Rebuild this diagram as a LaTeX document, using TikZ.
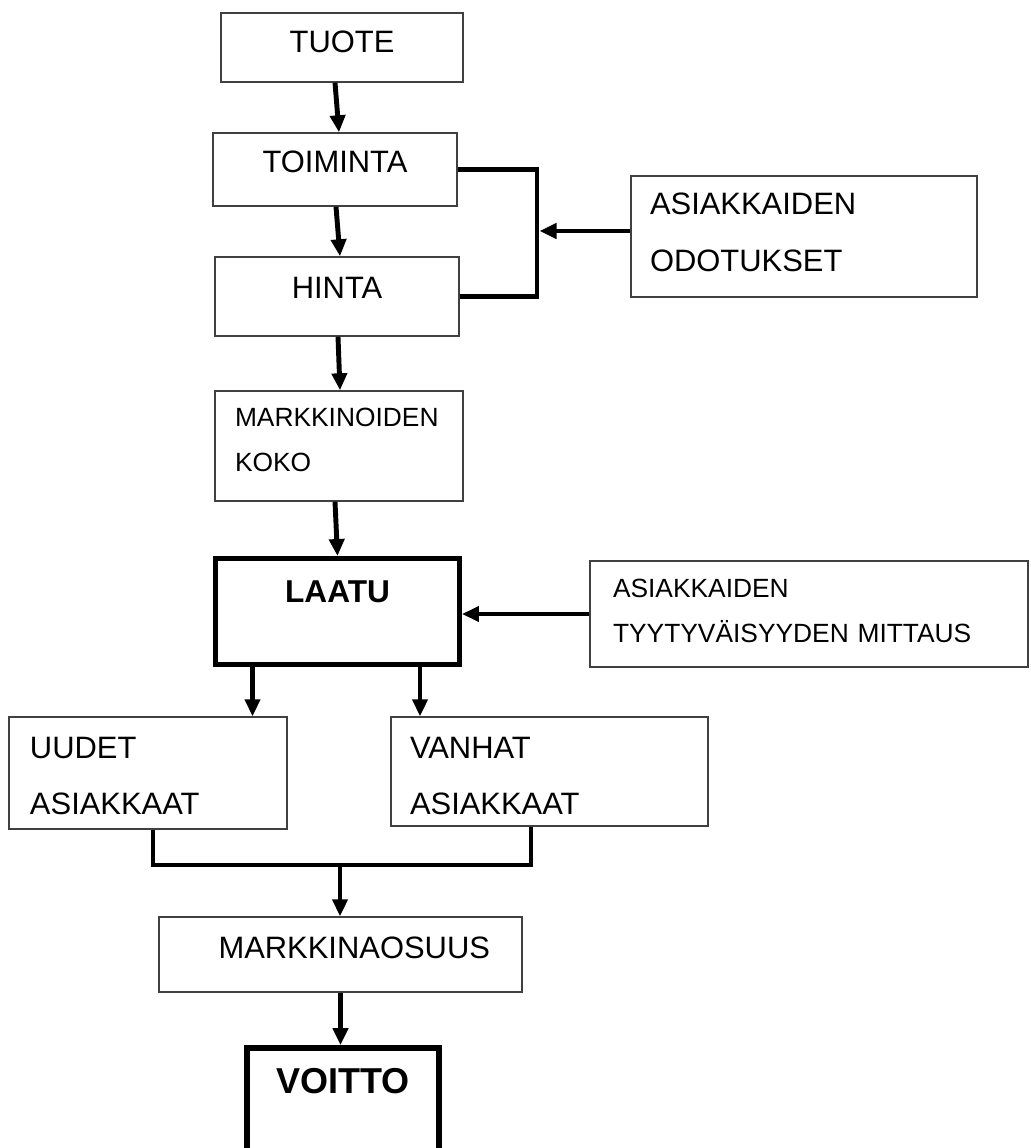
\documentclass[tikz,border=0pt]{standalone}
\usepackage{fontspec}
\setmainfont{Liberation Sans}
\usepackage{tikz}
\usetikzlibrary{shapes, arrows.meta, positioning}
\usetikzlibrary{calc}
\newlength{\px}
\setlength{\px}{0.02cm}
\newcommand{\fbig}{\fontsize{17.6}{31.9}\selectfont}
\newcommand{\fsmall}{\fontsize{15}{25.9}\selectfont}
\hyphenpenalty=10000

\begin{document}
\begin{tikzpicture}
  [
    x=0.02cm, y=-0.02cm,
    Box/.style n args={4}{rectangle, draw=black!75, line width=0.8pt, inner sep=0pt,
      minimum width=#1\px, text width=#2\px, text height=#3\px, text depth=#4\px},
    Big/.style={font=\fbig},
    Small/.style={font=\fsmall},
    Heavy/.style={draw=black, line width=#1},
    Line/.style={line width=2.8pt},
    Arrow/.style={line width=2.8pt, -{Triangle[length=0.34cm, width=0.3cm]}}
  ]
  \path[use as bounding box] (0,0) rectangle (1030,1148);
  \clip (0,0) rectangle (1030,1148);
  % Nodes
  \node[Box={242}{242}{40}{29}, Big, align=center] (tuote) at (342, 47.5) {TUOTE};
  \node[Box={244}{244}{40}{33}, Big, align=center] (toiminta) at (335, 169.5) {TOIMINTA};
  \node[Box={244}{244}{42}{37}, Big, align=center] (hinta) at (337, 296.5) {HINTA};
  \node[Box={346}{308}{39}{82}, Big, align=left] (odotukset) at (804, 236.5) {ASIAKKAIDEN\\ODOTUKSET};
  \node[Box={248}{208}{35}{75}, Small, align=left] (markk) at (339, 446) {MARKKINOIDEN\\KOKO};
  \node[Box={244}{244}{43.5}{62.5}, Heavy=2.8pt, align=center,
    font=\fontsize{18}{22}\selectfont\bfseries] (laatu) at (337.5, 611.5) {LAATU};
  \node[Box={438}{392}{36}{70}, Small, align=left] (tyyt) at (809, 614) {ASIAKKAIDEN\\TYYTYVÄISYYDEN MITTAUS};
  \node[Box={278}{236}{41}{71}, Big, align=left] (uudet) at (148, 773) {UUDET\\ASIAKKAAT};
  \node[Box={317}{279}{41}{68}, Big, align=left] (vanhat) at (549.5, 771.5) {VANHAT\\ASIAKKAAT};
  \node[Box={363}{299}{41}{34}, Big, align=right] (osuus) at (340.5, 954.5) {MARKKINAOSUUS};
  \node[Box={192}{192}{45}{77}, Heavy=3.3pt, align=center,
    font=\fontsize{20.5}{24}\selectfont\bfseries] (voitto) at (343, 1109) {VOITTO};
  % Lines
  \coordinate (jA) at (537, 231);
  \coordinate (jB) at (340, 865);
  \path (laatu.south) ++(-85,0) coordinate (lU);
  \path (laatu.south) ++(82.5,0) coordinate (lV);
  \path [draw, Arrow] ($(tuote.south)+(-7,0)$) -- ($(toiminta.north)+(4,0)$);
  \path [draw, Arrow] ($(toiminta.south)+(1,0)$) -- ($(hinta.north)+(3,0)$);
  \path [draw, Line] (toiminta.east) -| (jA) |- (hinta.east);
  \path [draw, Arrow] (odotukset.west |- jA) -- ($(jA)+(2.5,0)$);
  \path [draw, Arrow] ($(hinta.south)+(1,0)$) -- ($(markk.north)+(1,0)$);
  \path [draw, Arrow] ($(markk.south)+(-4,0)$) -- (laatu.north);
  \path [draw, Arrow] (tyyt.west) -- (tyyt.west -| laatu.east);
  \path [draw, Arrow] (lU) -- (lU |- uudet.north);
  \path [draw, Arrow] (lV) -- (lV |- vanhat.north);
  \path [draw, Line] ($(uudet.south)+(5,0)$) |- (jB) -| ($(vanhat.south)+(-18.5,0)$);
  \path [draw, Arrow] (jB) -- (jB |- osuus.north);
  \path [draw, Arrow] (osuus.south) -- (osuus.south |- voitto.north);
\end{tikzpicture}
\end{document}
